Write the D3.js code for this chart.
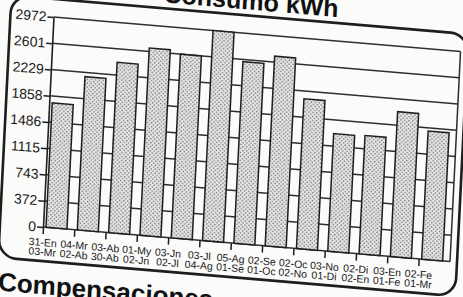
<!DOCTYPE html>
<html>
<head>
<meta charset="utf-8">
<script src="https://cdn.jsdelivr.net/npm/d3@7"></script>
<style>
  body { margin: 0; background: #fbfbfa; }
  svg { display: block; }
</style>
</head>
<body>
<svg></svg>
<script>
// Billing periods (start / end) and consumption in kWh
const periodStart = ["31-En", "04-Mr", "03-Ab", "01-My", "03-Jn", "03-Jl", "05-Ag", "02-Se", "02-Oc", "03-No", "02-Di", "03-En", "02-Fe"];
const periodEnd = ["03-Mr", "02-Ab", "30-Ab", "02-Jn", "02-Jl", "04-Ag", "01-Se", "01-Oc", "02-No", "01-Di", "02-En", "01-Fe", "01-Mr"];
const consumo = [1760, 2170, 2410, 2650, 2600, 2972, 2570, 2685, 2120, 1665, 1675, 2050, 1815];
const yTicks = [0, 372, 743, 1115, 1486, 1858, 2229, 2601, 2972];

const categories = periodStart.map((d, i) => d + "|" + periodEnd[i]);
const data = categories.map((c, i) => ({ cat: c, start: periodStart[i], end: periodEnd[i], value: consumo[i] }));

// plot size in the local (unskewed) frame
const width = 407;
const height = 210;
const fontFamily = "'Liberation Sans', Arial, sans-serif";

const svg = d3.select('svg').
attr('width', 463).
attr('height', 297);

// the scanned bill is slightly rotated / skewed
const g = svg.append('g').
attr('transform', 'matrix(1, 0.085, -0.05, 1, 43, 227)').
attr('font-family', fontFamily);

// stipple pattern for the bars
const pat = svg.append('defs').append('pattern').
attr('id', 'dots').
attr('patternUnits', 'userSpaceOnUse').
attr('width', 4).
attr('height', 4);
pat.append('rect').attr('width', 4).attr('height', 4).attr('fill', '#e6e6e4');
pat.append('circle').attr('cx', 1).attr('cy', 1).attr('r', 0.8).attr('fill', '#7c7c7c');
pat.append('circle').attr('cx', 3).attr('cy', 3).attr('r', 0.8).attr('fill', '#7c7c7c');

// scales
const x = d3.scaleBand().
domain(categories).
range([0, width]).
padding(0);

const xTick = d3.scalePoint().
domain(categories).
range([0, x.step() * (categories.length - 1)]);

const y = d3.scaleLinear().
domain([0, 2972]).
range([0, -height]);

// outer rounded frame
g.append('rect').
attr('x', -43).
attr('y', -228).
attr('width', 457).
attr('height', 262).
attr('rx', 18).
attr('fill', 'none').
attr('stroke', '#1e1e1e').
attr('stroke-width', 2.6);

// title (top is cut by the scan edge)
g.append('text').
attr('x', 196).
attr('y', -234).
attr('text-anchor', 'middle').
attr('font-size', 25).
attr('font-weight', 'bold').
attr('fill', '#111').
text('Consumo kWh');

// grid lines
g.append('g').
attr('class', 'grid').
selectAll('line').
data(yTicks).
enter().append('line').
attr('x1', 0).
attr('x2', width).
attr('y1', d => y(d)).
attr('y2', d => y(d)).
attr('stroke', '#2e2e2e').
attr('stroke-width', 1.5);

// right edge of the plot
g.append('line').
attr('x1', width).
attr('x2', width).
attr('y1', y(0)).
attr('y2', y(2972)).
attr('stroke', '#2e2e2e').
attr('stroke-width', 1.5);

// bars
g.append('g').
attr('class', 'bar-container').
selectAll('rect').
data(data).
enter().append('rect').
attr('x', d => x(d.cat) + 3).
attr('y', d => y(d.value)).
attr('width', 21).
attr('height', d => y(0) - y(d.value)).
attr('fill', 'url(#dots)').
attr('stroke', '#1e1e1e').
attr('stroke-width', 1.5);

// Y axis
const yAxis = d3.axisLeft(y).
tickValues(yTicks).
tickSize(6).
tickSizeOuter(0).
tickPadding(1).
tickFormat(d => d);

g.append('g').
attr('class', 'axis y').
call(yAxis).
call(a => a.select('.domain').attr('stroke', '#1e1e1e').attr('stroke-width', 1.6)).
call(a => a.selectAll('.tick line').attr('stroke', '#1e1e1e').attr('stroke-width', 1.6)).
selectAll('text').
attr('font-family', fontFamily).
attr('font-size', 14).
attr('fill', '#1a1a1a');

// X axis, ticks at the left of each bar
const xAxis = d3.axisBottom(xTick).
tickSize(7).
tickSizeOuter(0).
tickFormat('');

const xg = g.append('g').
attr('class', 'axis x').
call(xAxis);
xg.select('.domain').remove();
xg.selectAll('.tick line').attr('stroke', '#1e1e1e').attr('stroke-width', 1.5);

// two-line period labels
const labels = xg.selectAll('.tick').
data(data).
append('text').
attr('fill', '#1a1a1a').
attr('font-family', fontFamily).
attr('font-size', 10.5).
attr('text-anchor', 'middle');
labels.append('tspan').attr('x', 0).attr('y', 19).text(d => d.start);
labels.append('tspan').attr('x', 0).attr('y', 28.5).text(d => d.end);

// next section heading (bottom is cut by the scan edge)
g.append('text').
attr('x', -42).
attr('y', 67).
attr('font-size', 26).
attr('font-weight', 'bold').
attr('fill', '#111').
text('Compensaciones');
</script>
</body>
</html>
